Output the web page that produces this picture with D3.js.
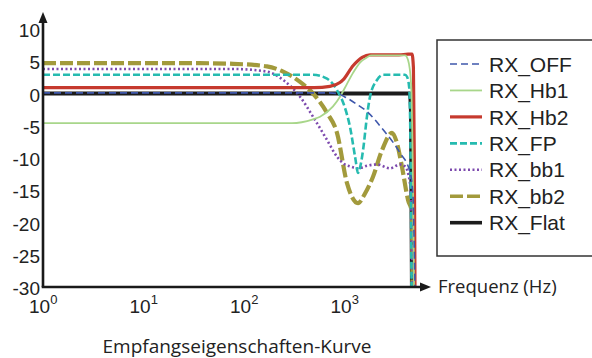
<!DOCTYPE html>
<html>
<head>
<meta charset="utf-8">
<script src="https://cdn.jsdelivr.net/npm/d3@7"></script>
<style>
  body { margin: 0; background: #fff; }
  svg { display: block; }
</style>
</head>
<body>
<div id="graph"></div>
<script>
// series data, [frequency in Hz, level in dB]
var RX_OFF = [[1, 0.1], [700, 0.1], [842, 0], [1000, -0.5], [1363, -1.8], [1675, -2.8], [2416, -5.6],
    [3565, -9.2], [4489, -12.2], [4808, -16], [4920, -22], [5028, -30]];
var RX_Hb1 = [[1, -4.6], [300, -4.6], [486, -4.0], [571, -3.6], [769, -2], [902, -0.5], [1059, 1.5],
    [1216, 3.2], [1427, 4.8], [1675, 5.6], [1850, 5.9], [4000, 5.9], [4287, 5.2], [4600, 1.5], [4808, -15], [4920, -30]];
var RX_Hb2 = [[1, 0.9], [500, 0.9], [717, 1.1], [900, 1.7], [966, 2.1], [1216, 4.3], [1500, 5.6], [1794, 6],
    [3500, 6], [4287, 6.1], [4700, 6.1], [4850, 4], [4950, -10], [5030, -30]];
var RX_FP = [[1, 2.9], [486, 2.9], [670, 2.3], [842, 0.5], [1000, -2], [1135, -5.2], [1280, -10], [1363, -12.3],
    [1450, -11], [1529, -8.8], [1675, -3.5], [1794, -0.5], [2106, 2.1], [2416, 2.9], [4000, 2.9], [4190, 2.6],
    [4400, 1], [4550, -10], [4650, -30]];
var RX_bb1 = [[1, 3.8], [78, 3.8], [169, 3.4], [245, 2.1], [361, -0.5], [486, -3.6], [670, -7.2], [842, -9.8],
    [966, -10.8], [1135, -11.3], [1363, -11.6], [1675, -11.2], [2106, -11], [2837, -11.6], [3565, -11],
    [4000, -11.3], [4489, -13.9], [4650, -20], [4750, -30]];
var RX_bb2 = [[1, 4.7], [36, 4.7], [78, 4.6], [169, 4.2], [245, 3.4], [361, 1.8], [486, 0], [670, -3], [842, -6.1],
    [1059, -13.9], [1363, -17], [1600, -15.5], [1922, -12.9], [2361, -8.8], [2971, -6.1], [3300, -7.5],
    [3735, -11.4], [4287, -16.5], [4700, -18.5], [4750, -30]];
var RX_Flat = [[1, 0], [4480, 0], [4600, -3], [4700, -30]];

var seriesNames = ["RX_OFF", "RX_Hb1", "RX_Hb2", "RX_FP", "RX_bb1", "RX_bb2", "RX_Flat"];
var seriesData = [RX_OFF, RX_Hb1, RX_Hb2, RX_FP, RX_bb1, RX_bb2, RX_Flat];
var yTicks = [10, 5, 0, -5, -10, -15, -20, -25, -30];
var xTicks = [0, 1, 2, 3]; // exponents of 10

var styles = {
    RX_OFF:  {color: "#3f58ac", width: 1.6, dash: "7,4"},
    RX_Hb1:  {color: "#a8d68a", width: 1.8, dash: null},
    RX_Hb2:  {color: "#c63a2e", width: 3.2, dash: null},
    RX_FP:   {color: "#26bbb0", width: 2.6, dash: "7,3"},
    RX_bb1:  {color: "#7d4aae", width: 2.6, dash: "2,2.5"},
    RX_bb2:  {color: "#a29a3c", width: 4.2, dash: "13,4"},
    RX_Flat: {color: "#1c1c1c", width: 4.2, dash: null}
};

var W = 592, H = 358;
var svg = d3.select("#graph").append("svg")
    .attr("width", W)
    .attr("height", H);

var x = d3.scaleLog().domain([1, 1e4]).range([43, 445]);
var y = d3.scaleLinear().domain([-30, 10]).range([287, 29]);

var line = d3.line()
    .x(function(d) { return x(d[0]); })
    .y(function(d) { return y(d[1]); })
    .curve(d3.curveMonotoneX);

// curves, drawn back to front
var curves = svg.append("g");
for (var i = seriesNames.length - 1; i >= 0; i--) {
    var s = styles[seriesNames[i]];
    curves.append("path")
        .datum(seriesData[i])
        .attr("fill", "none")
        .attr("stroke", s.color)
        .attr("stroke-width", s.width)
        .attr("stroke-dasharray", s.dash)
        .attr("d", line);
}

// axes with arrows
var axisColor = "#1a1a1a";
svg.append("line")
    .attr("x1", x(1)).attr("y1", y(-30))
    .attr("x2", x(1)).attr("y2", 20)
    .attr("stroke", axisColor).attr("stroke-width", 2.6);
svg.append("path")
    .attr("d", "M" + x(1) + ",12 L" + (x(1) - 4.5) + ",23 L" + (x(1) + 4.5) + ",23 Z")
    .attr("fill", axisColor);
svg.append("line")
    .attr("x1", x(1) - 1.3).attr("y1", y(-30))
    .attr("x2", 423).attr("y2", y(-30))
    .attr("stroke", axisColor).attr("stroke-width", 2.6);
svg.append("path")
    .attr("d", "M431," + y(-30) + " L420," + (y(-30) - 4.5) + " L420," + (y(-30) + 4.5) + " Z")
    .attr("fill", axisColor);

var tickFont = "'Liberation Sans', Arial, sans-serif";

svg.append("g").selectAll("text")
    .data(yTicks)
    .enter().append("text")
    .attr("x", 40)
    .attr("y", function(d) { return y(d) + 1.5; })
    .attr("dy", "0.35em")
    .attr("text-anchor", "end")
    .style("font-family", tickFont)
    .style("font-size", "19px")
    .style("fill", "#222")
    .text(function(d) { return d; });

var xl = svg.append("g").selectAll("text")
    .data(xTicks)
    .enter().append("text")
    .attr("x", function(d) { return x(Math.pow(10, d)) - 14; })
    .attr("y", 313)
    .style("font-family", tickFont)
    .style("font-size", "19px")
    .style("fill", "#222");
xl.append("tspan").text("10");
xl.append("tspan")
    .attr("dy", -9)
    .style("font-size", "13px")
    .text(function(d) { return d; });

// axis titles
svg.append("text")
    .attr("x", 438)
    .attr("y", 293)
    .style("font-family", "'Open Sans', sans-serif")
    .style("font-size", "18.5px")
    .style("fill", "#222")
    .text("Frequenz (Hz)");

svg.append("text")
    .attr("x", 237)
    .attr("y", 353)
    .attr("text-anchor", "middle")
    .style("font-family", "'Open Sans', sans-serif")
    .style("font-size", "19px")
    .style("fill", "#222")
    .text("Empfangseigenschaften-Kurve");

// legend
var legend = svg.append("g");
legend.append("rect")
    .attr("x", 437).attr("y", 40)
    .attr("width", 160).attr("height", 216)
    .attr("fill", "#fff")
    .attr("stroke", "#333")
    .attr("stroke-width", 1.5);

var rows = legend.selectAll("g.item")
    .data(seriesNames)
    .enter().append("g")
    .attr("class", "item")
    .attr("transform", function(d, i) { return "translate(0," + (64 + i * 26.45) + ")"; });

rows.append("line")
    .attr("x1", 450).attr("x2", 482)
    .attr("y1", 0).attr("y2", 0)
    .attr("stroke", function(d) { return styles[d].color; })
    .attr("stroke-width", function(d) { return Math.min(styles[d].width, 3.6); })
    .attr("stroke-dasharray", function(d) { return styles[d].dash; });

rows.append("text")
    .attr("x", 489)
    .attr("y", 7.6)
    .style("font-family", tickFont)
    .style("font-size", "21px")
    .style("fill", "#222")
    .text(function(d) { return d; });
</script>
</body>
</html>
